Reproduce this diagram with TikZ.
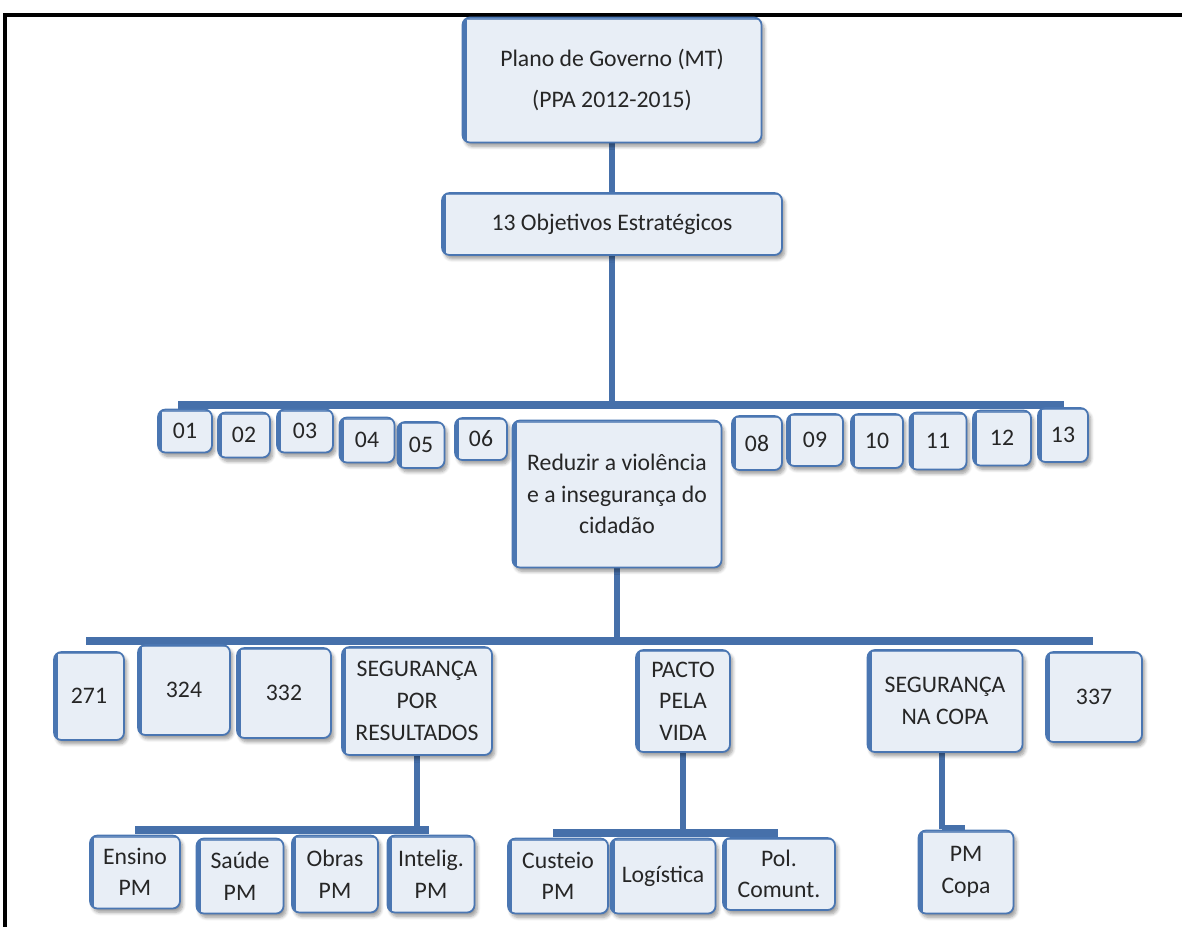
\documentclass[tikz,border=0pt]{standalone}
\usepackage{fontspec}
\setmainfont{Carlito}
\usetikzlibrary{shadows.blur}
\definecolor{boxfill}{HTML}{E8EEF6}
\definecolor{boxedge}{HTML}{4A76B2}
\definecolor{conncol}{HTML}{4670AA}
\definecolor{txt}{HTML}{262626}
\pgfdeclarelayer{bg}
\pgfsetlayers{bg,main}
\tikzset{
  box/.style={rounded corners=0.15cm, fill=boxfill, draw=boxedge, line width=1pt,
    text=txt, align=center, inner sep=1pt, font=\fontsize{13.5}{18}\selectfont,
    blur shadow={shadow blur steps=6, shadow xshift=1.5pt, shadow yshift=-2.2pt, shadow opacity=40},
    path picture={\draw[boxedge, line width=5pt] (path picture bounding box.north west) -- (path picture bounding box.south west);
                  \draw[boxedge!75, line width=2.4pt] (path picture bounding box.north west) -- (path picture bounding box.north east);}},
  sz/.style 2 args={minimum width=#1*0.02cm, minimum height=#2*0.02cm},
  conn/.style={draw=conncol, line width=3.4pt},
  bus/.style={draw=conncol, line width=5pt},
  frame/.style={draw=black, line width=2pt}
}
\begin{document}
\begin{tikzpicture}[x=0.02cm,y=-0.02cm]
\useasboundingbox (0,0) rectangle (1182,927);
\draw[frame] (3,15) -- (1182,15);
\draw[frame] (5,15) -- (5,927);

% level 0-1
\node[box, sz={299}{125}] (top) at (612,80) {Plano de Governo (MT)\\[5pt](PPA 2012-2015)};
\node[box, sz={340}{62}] (obj) at (612,224) {13 Objetivos Estratégicos};

% row 1
\node[box, sz={54}{43}] (o01) at (185,431) {01};
\node[box, sz={52}{45}] (o02) at (244,435) {02};
\node[box, sz={56}{43}] (o03) at (305,431) {03};
\node[box, sz={55}{45}] (o04) at (367,440) {04};
\node[box, sz={47}{46}] (o05) at (421,445) {05};
\node[box, sz={52}{42}] (o06) at (481,439) {06};
\node[box, sz={209}{147}] (o07) at (617,494) {Reduzir a violência\\e a insegurança do\\cidadão};
\node[box, sz={50}{54}] (o08) at (757,443) {08};
\node[box, sz={56}{52}] (o09) at (815,440) {09};
\node[box, sz={52}{54}] (o10) at (877,441) {10};
\node[box, sz={57}{57}] (o11) at (938,441) {11};
\node[box, sz={58}{55}] (o12) at (1002,438) {12};
\node[box, sz={50}{54}] (o13) at (1063,435) {13};

% row 2
\node[box, sz={70}{88}] (p271) at (89,696) {271};
\node[box, sz={92}{90}] (p324) at (184,690) {324};
\node[box, sz={94}{90}] (p332) at (284,693) {332};
\node[box, sz={150}{108}] (spr) at (417,701) {SEGURANÇA\\POR\\RESULTADOS};
\node[box, sz={94}{102}] (pacto) at (683,701) {PACTO\\PELA\\VIDA};
\node[box, sz={155}{102}] (copa) at (945,701) {SEGURANÇA\\NA COPA};
\node[box, sz={96}{90}] (p337) at (1094,697) {337};

% row 3
\node[box, sz={90}{73}] (ensino) at (135,872) {Ensino\\PM};
\node[box, sz={87}{75}] (saude) at (240,876) {Saúde\\PM};
\node[box, sz={86}{77}] (obras) at (335,874) {Obras\\PM};
\node[box, sz={87}{77}] (intel) at (431,874) {Intelig.\\PM};
\node[box, sz={100}{75}] (custeio) at (558,876) {Custeio\\PM};
\node[box, sz={105}{75}] (logist) at (663,876) {Logística};
\node[box, sz={112}{72}] (polcom) at (779,874) {Pol.\\Comunt.};
\node[box, sz={95}{83}] (pmcopa) at (966,872) {PM\\Copa};

% bus coordinates
\coordinate (b1l) at (178,405);
\coordinate (b1r) at (1064,405);
\coordinate (b2l) at (86,641);
\coordinate (b2r) at (1093,641);
\coordinate (b3l) at (135,830);
\coordinate (b3r) at (429,830);
\coordinate (b4l) at (553,833);
\coordinate (b4r) at (778,833);
\coordinate (b5l) at (942,829);
\coordinate (b5r) at (965,829);

\begin{pgfonlayer}{bg}
\draw[conn] (top.south) -- (obj.north);
\draw[conn] (obj.south) -- (obj.south |- b1l);
\draw[bus] (b1l) -- (b1r);
\draw[conn] (o07.south) -- (o07.south |- b2l);
\draw[bus] (b2l) -- (b2r);
\draw[conn] (spr.south) -- (spr.south |- b3l);
\draw[bus] (b3l) -- (b3r);
\draw[conn] (pacto.south) -- (pacto.south |- b4l);
\draw[bus] (b4l) -- (b4r);
\draw[conn] (b5l |- copa.south) -- (b5l);
\draw[bus] (b5l) -- (b5r);
\end{pgfonlayer}
\end{tikzpicture}
\end{document}
